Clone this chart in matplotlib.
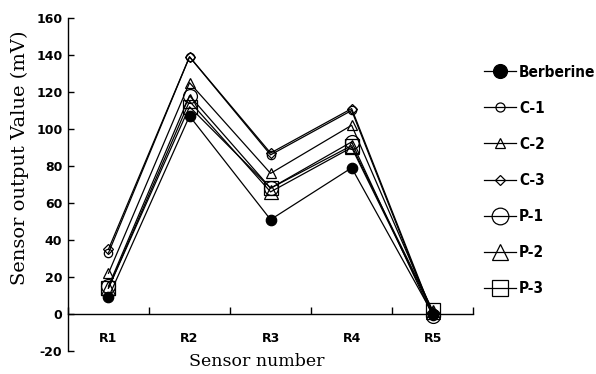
"""Sensor output values for berberine and related samples across five sensors."""

import matplotlib
matplotlib.use("Agg")
import matplotlib.pyplot as plt
from matplotlib.ticker import FixedLocator, NullFormatter, FixedFormatter

plt.rcParams["axes.unicode_minus"] = False

sensors = ["R1", "R2", "R3", "R4", "R5"]
positions = [0.5, 1.5, 2.5, 3.5, 4.5]

berberine = [9, 107, 51, 79, 0]
c1 = [33, 139, 86, 110, -1]
c2 = [22, 125, 76, 102, 1]
c3 = [35, 139, 87, 111, 0]
p1 = [15, 118, 68, 93, -1]
p2 = [14, 115, 66, 90, 1]
p3 = [14, 112, 68, 91, 2]

# name, values, marker, plot size, legend size, face colour
series = [
    ("Berberine", berberine, "o", 7.5, 10, "black"),
    ("C-1", c1, "o", 6, 6.5, "none"),
    ("C-2", c2, "^", 6.5, 7, "none"),
    ("C-3", c3, "D", 5, 5.5, "none"),
    ("P-1", p1, "o", 10, 12, "none"),
    ("P-2", p2, "^", 10.5, 12, "none"),
    ("P-3", p3, "s", 10, 11.5, "none"),
]

fig = plt.figure(figsize=(5.96, 3.74), dpi=100)
ax = fig.add_axes([0.114, 0.0615, 0.68, 0.8905])

handles = []
for name, values, marker, size, _, face in series:
    (line,) = ax.plot(
        positions, values, color="black", linewidth=0.9, marker=marker,
        markersize=size, markerfacecolor=face, markeredgecolor="black",
        markeredgewidth=0.9, label=name,
    )
    handles.append(line)

ax.set_xlim(0, 5)
ax.set_ylim(-20, 160)
ax.spines["top"].set_visible(False)
ax.spines["right"].set_visible(False)
ax.spines["bottom"].set_position(("data", 0))
ax.spines["left"].set_linewidth(1.0)
ax.spines["bottom"].set_linewidth(1.0)

ax.xaxis.set_major_locator(FixedLocator([0, 1, 2, 3, 4, 5]))
ax.xaxis.set_major_formatter(NullFormatter())
ax.xaxis.set_minor_locator(FixedLocator(positions))
ax.xaxis.set_minor_formatter(FixedFormatter(sensors))
ax.tick_params(axis="x", which="major", direction="in", length=5, width=1)
ax.tick_params(axis="x", which="minor", length=0, pad=13, labelsize=9)
for label in ax.xaxis.get_minorticklabels():
    label.set_fontweight("bold")

ax.set_yticks(range(-20, 161, 20))
ax.tick_params(axis="y", direction="in", length=4, width=1, labelsize=9, pad=4)
for label in ax.get_yticklabels():
    label.set_fontweight("bold")

ax.set_ylabel("Sensor output Value (mV)", family="DejaVu Serif", fontsize=14)
ax.yaxis.set_label_coords(-0.095, 0.58)
ax.set_xlabel("Sensor number", family="DejaVu Serif", fontsize=12.5)
ax.xaxis.set_label_coords(0.467, -0.005)

legend = fig.legend(
    handles=handles, loc="upper left", bbox_to_anchor=(0.789, 0.864),
    frameon=False, handlelength=2.1, labelspacing=1.38, handletextpad=0.2,
    prop={"family": "DejaVu Sans", "stretch": "condensed", "weight": "bold", "size": 11},
)
for handle, item in zip(legend.legend_handles, series):
    handle.set_markersize(item[4])

fig.savefig("out.png", dpi=100)
